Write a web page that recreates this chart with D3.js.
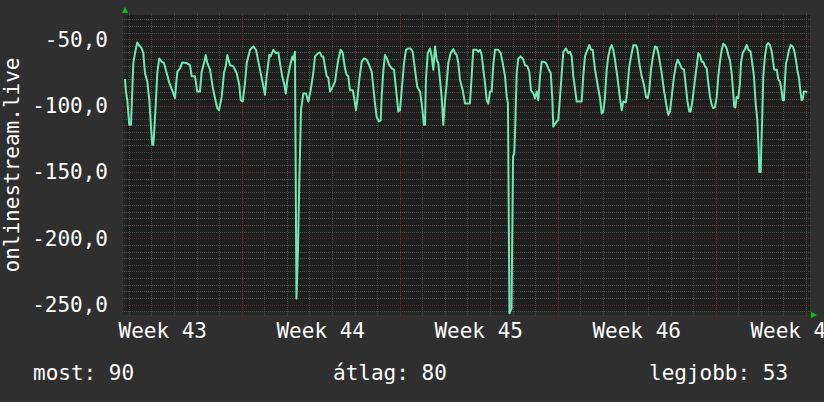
<!DOCTYPE html>
<html><head><meta charset="utf-8">
<script src="https://cdn.jsdelivr.net/npm/d3@7"></script>
<style>html,body{margin:0;padding:0;background:#2f2f2f;}svg{display:block;}</style>
</head><body><svg id="c" width="824" height="402"></svg>
<script>
const seriesName = "onlinestream.live";
// hours since the first sample of the graph window
const hours = [1,2.1,3.5,5.6,7.4,8.5,9.9,11.7,14.1,16,18.8,20.5,22.3,24.8,26.9,28.7,30.1,31.2,32.2,34,35.4,37.5,40.1,42.5,45.4,48.2,51.8,54.2,56.7,59.6,62,66.7,70.2,72,75.5,77.9,80.8,82.6,85.1,86.9,88.6,91.5,94.3,96.8,99.2,101,103.9,106.3,108.5,109.8,112.7,116.2,119.8,122.6,124.1,126.2,128.7,130.5,134,137.5,140.4,143.9,147.5,149.9,151.7,154.5,156,158.8,161.6,164.1,165.9,168.3,170.5,172,173.7,176.5,179,180,181.8,183.4,185,186.4,188.2,190.7,193.5,196,198.5,201.3,203.1,206.6,208.4,210.2,211.9,213.7,215.6,217.3,219.1,221.9,224.4,226.2,227.9,230.4,232.6,235,236.8,238.5,240.3,243.2,244.6,246.7,248.1,250.2,252.8,255.2,258.1,260.8,263.4,265.1,266.9,268.7,271.2,273,274,275.7,277.5,279.4,282.1,284.7,287.1,289.2,291.7,293.5,295.3,297.8,299.9,302.3,304.9,307,309.4,311.9,314.8,316.6,319,320.1,321.1,323,325.4,327.2,328.9,330.7,332.5,334.2,336,337.8,339.5,341.4,343.2,344.9,347.4,350.2,352,353.8,355.5,357.3,360.2,362.6,367.9,369.7,371.4,375.1,376.8,378.6,380.4,382.1,383.9,385.7,387.4,389.2,391,392.7,394.5,398,400.6,402.7,405.2,407,408.3,409.9,412.1,413.7,415,416.1,417.6,419.3,421.8,424.6,426.4,428.9,431,432.8,435.3,437.1,438.9,440.6,442.4,444.2,446.6,448.8,451.2,453.8,455.4,456.5,460.1,461.8,463.6,465.5,467.2,470,472.5,474.3,476.1,477.8,479.6,481.4,486.7,488.4,490.2,492,494.8,496.6,498.4,500.9,503.3,506.2,508,509.7,511.5,513.3,515,516.8,518.6,520.3,522.1,524.6,527.4,529.3,531,533.8,535.2,537.3,539.9,541.6,544.5,545.8,548,550.5,553,555.1,556.9,558.6,560.4,562.2,564.7,566.5,568.2,570,571.8,574.2,577.1,578.8,580.6,582.4,584.9,587,588.8,590.5,593.1,595.5,597.3,599,601.1,602.6,604.8,607.2,609,610.7,612.5,614.3,616,617.8,619.6,621.3,623.2,625,626.7,628.5,630.3,632,633.8,635.6,637.3,639.1,640.9,642.6,644.4,646.2,647.9,649,650.1,651.5,653.2,655.1,656.1,657.9,660,662.2,663.9,666.4,668.1,669.9,671.7,673.5,674.9,675.6,677.1,677.7,678.8,679.8,681.6,683.4,685.1,687,688.8,690.5,691.5,694.1,695.8,697.6,699.4,700.5,701.8,702.9,704,705.4,707.2,709,711.1,712.5,714.3,716,717.8,719.6,720.7,721.7,723.1,724.9,726.6];
const values = [-80,-89.5,-96,-114.5,-114.5,-94.5,-68,-60.5,-52.5,-54.5,-57,-60.5,-75.5,-82,-96,-116,-129.5,-129.5,-118.5,-96,-75.5,-64.5,-67,-68,-75.5,-83,-89.5,-94.5,-74.5,-72,-67.5,-68,-69.5,-78,-78,-89.5,-89.5,-74.5,-68,-62,-68,-73,-86,-94.5,-102,-103.5,-93.5,-75.5,-69.5,-62,-69.5,-70.5,-75.5,-84.5,-96,-97,-83,-68,-58,-55.5,-58,-70.5,-83,-92,-78,-62,-63,-58,-60.5,-60,-68,-78,-84.5,-91,-80.5,-70.5,-63,-65.5,-59.5,-245.5,-208.5,-158.5,-103.5,-91,-91,-97,-88.5,-75.5,-63,-60.5,-60,-63,-63,-70.5,-78,-79,-89.5,-86,-82,-73,-65.5,-58,-60.5,-72,-77,-78,-88.5,-88.5,-93.5,-103.5,-96,-80.5,-67,-64.5,-65.5,-69.5,-74.5,-86,-98.5,-108.5,-112,-111,-93.5,-74.5,-62,-64.5,-69.5,-72,-73,-87,-104.5,-103.5,-88.5,-68,-58,-57,-57,-59.5,-73,-86,-89.5,-98.5,-114.5,-114.5,-80.5,-60.5,-57,-63,-73,-55.5,-65.5,-68,-80.5,-93.5,-114.5,-96,-83,-68,-60.5,-57.5,-60.5,-62,-68,-80.5,-88.5,-98.5,-98.5,-78,-58,-58,-59.5,-58,-62,-73,-83,-96,-98.5,-89.5,-89.5,-69.5,-58,-58,-60.5,-68,-78,-93.5,-98.5,-256.5,-253,-138.5,-136,-115,-75.5,-64.5,-63,-65.5,-69.5,-70.5,-74.5,-88.5,-91,-94.5,-89.5,-96,-78,-67,-67,-68,-72,-75.5,-93.5,-116,-112,-111,-94.5,-75.5,-59.5,-57,-60.5,-59.5,-63,-78,-87,-97,-97,-78,-63,-59.5,-54.5,-58,-58,-73,-83,-94.5,-106,-104.5,-93.5,-73,-63,-57,-54.5,-58,-65.5,-78,-94.5,-103.5,-97,-97.5,-88.5,-70.5,-60.5,-54.5,-54.5,-57,-68,-78,-84.5,-93.5,-94.5,-88.5,-73,-64.5,-55.5,-56,-60.5,-68,-75.5,-88.5,-101,-107,-104.5,-93.5,-78,-69.5,-65.5,-68,-72,-73,-84.5,-96,-104.5,-104.5,-94.5,-80.5,-70.5,-60.5,-62,-67,-67,-70.5,-72,-83,-93.5,-99.5,-102,-101,-93.5,-78,-67,-58,-53.5,-54.5,-57,-62,-66,-75.5,-91,-101,-101.5,-93.5,-94.5,-83,-68,-60.5,-58,-54.5,-58,-59.5,-68,-78,-98.5,-111,-133.5,-150,-150,-131,-107,-78,-63,-54.5,-53,-54.5,-59.5,-68,-73,-73,-80.5,-82,-89.5,-96,-96,-80.5,-68,-64.5,-58,-54.5,-55.5,-58,-64.5,-73,-79.5,-91,-96,-95,-89.5,-89.5,-90];
const yMajorTicks = [-50, -100, -150, -200, -250];
const legendLabels = ["most:", "átlag:", "legjobb:"];
const legendValues = [90, 80, 53];
const windowHours = 729.5;
const startTime = Date.UTC(2023, 9, 24, 18, 48);
const yDomain = [-257.8, -31.8];

const HOUR = 3600e3;
const svg = d3.select("#c");
const W = 824, H = 402;
const L = 124, R = 810, T = 15, B = 315;
const font = "'DejaVu Sans Mono', monospace";

const x = d3.scaleUtc().domain([new Date(startTime), new Date(startTime + windowHours * HOUR)]).range([L, R]);
const y = d3.scaleLinear().domain(yDomain).range([B, T]);

svg.append("rect").attr("width", W).attr("height", H).attr("fill", "#2f2f2f");
svg.append("rect").attr("x", L - 1).attr("y", T).attr("width", R - L + 1).attr("height", B - T).attr("fill", "#262626");
svg.append("rect").attr("x", L + 2).attr("y", T).attr("width", R - L - 2).attr("height", B - T - 4).attr("fill", "#1f1f1f");

const [d0, d1] = x.domain();
const minorY = d3.range(Math.ceil(yDomain[0] / 5) * 5, yDomain[1], 5).filter(v => v % 50 !== 0);
svg.append("g").selectAll("line").data(minorY).join("line")
  .attr("x1", L - 2).attr("x2", R + 2).attr("y1", d => Math.round(y(d)) + 0.5).attr("y2", d => Math.round(y(d)) + 0.5)
  .attr("stroke", "#4a4a4a").attr("stroke-width", 1).attr("stroke-dasharray", "1,1");
const days = d3.utcDay.range(d0, d1).filter(d => d.getUTCDay() !== 1);
svg.append("g").selectAll("line").data(days).join("line")
  .attr("x1", d => Math.round(x(d)) + 0.5).attr("x2", d => Math.round(x(d)) + 0.5).attr("y1", T - 2).attr("y2", B + 2)
  .attr("stroke", "#4a4a4a").attr("stroke-width", 1).attr("stroke-dasharray", "1,1");
svg.append("g").selectAll("line").data(yMajorTicks).join("line")
  .attr("x1", L - 2).attr("x2", R + 2).attr("y1", d => Math.round(y(d)) + 0.5).attr("y2", d => Math.round(y(d)) + 0.5)
  .attr("stroke", "#6a2e2e").attr("stroke-width", 1).attr("stroke-dasharray", "1,1");
const mondays = d3.utcMonday.range(d0, d1);
svg.append("g").selectAll("line").data(mondays).join("line")
  .attr("x1", d => Math.round(x(d)) + 0.5).attr("x2", d => Math.round(x(d)) + 0.5).attr("y1", T - 2).attr("y2", B + 2)
  .attr("stroke", "#6a2e2e").attr("stroke-width", 1).attr("stroke-dasharray", "1,1");

svg.append("defs").append("clipPath").attr("id", "clip").append("rect")
  .attr("x", L).attr("y", T).attr("width", R - L).attr("height", B - T);
const pts = hours.map((h, i) => ({t: new Date(startTime + h * HOUR), v: values[i]}));
svg.append("path").datum(pts).attr("clip-path", "url(#clip)")
  .attr("d", d3.line().x(d => x(d.t)).y(d => y(d.v)))
  .attr("fill", "none").attr("stroke", "#6fe8b4").attr("stroke-width", 2).attr("stroke-linejoin", "round");

svg.append("path").attr("d", `M${L - 2},${T - 2}L${L + 1},${T - 8}L${L + 4},${T - 2}Z`).attr("fill", "#00cc00");
svg.append("path").attr("d", `M${R + 1},${B - 3}L${R + 7},${B}L${R + 1},${B + 3}Z`).attr("fill", "#00cc00");

const fmt = v => d3.format(".1f")(v).replace("−", "-").replace(".", ",");
svg.append("g").selectAll("text").data(yMajorTicks).join("text")
  .attr("x", 108).attr("y", d => y(d) + 7.5).attr("text-anchor", "end")
  .attr("font-family", font).attr("font-size", 21).attr("fill", "#ffffff").text(fmt);

const weekStarts = d3.utcMonday.range(d3.utcMonday.floor(d0), d1);
svg.append("g").selectAll("text").data(weekStarts).join("text")
  .attr("x", d => x(new Date(+d + 84 * HOUR))).attr("y", 338).attr("text-anchor", "middle")
  .attr("font-family", font).attr("font-size", 21).attr("fill", "#ffffff")
  .text(d => "Week " + d3.utcFormat("%V")(d));

svg.append("text").attr("transform", `translate(19,${(T + B) / 2}) rotate(-90)`).attr("text-anchor", "middle")
  .attr("font-family", font).attr("font-size", 21).attr("fill", "#ffffff").text(seriesName);

const legendX = [33, 333, 649];
svg.append("g").selectAll("text").data(legendLabels).join("text")
  .attr("x", (d, i) => legendX[i]).attr("y", 380)
  .attr("font-family", font).attr("font-size", 21).attr("fill", "#ffffff")
  .text((d, i) => d + " " + legendValues[i]);
</script>
</body></html>
